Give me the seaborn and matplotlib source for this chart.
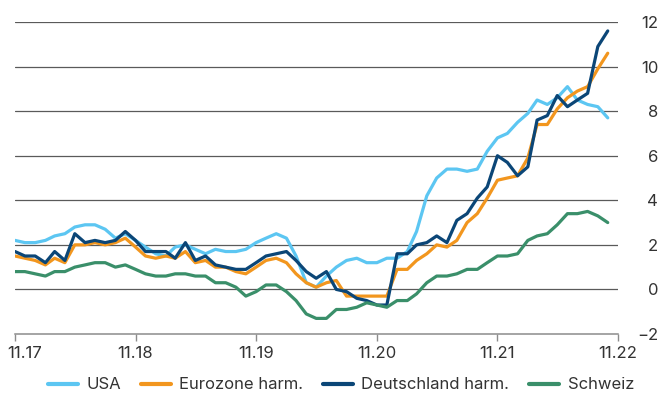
import matplotlib
matplotlib.use("Agg")
import matplotlib.pyplot as plt
import matplotlib.transforms as mtransforms
import seaborn as sns
import pandas as pd

# Monthly inflation rates, year-on-year in %, Nov 2017 - Oct 2022
months = pd.date_range("2017-11-01", periods=60, freq="MS")

usa = [2.2, 2.1,
       2.1, 2.2, 2.4, 2.5, 2.8, 2.9, 2.9, 2.7, 2.3, 2.5, 2.2, 1.9,
       1.6, 1.5, 1.9, 2.0, 1.8, 1.6, 1.8, 1.7, 1.7, 1.8, 2.1, 2.3,
       2.5, 2.3, 1.5, 0.3, 0.1, 0.6, 1.0, 1.3, 1.4, 1.2, 1.2, 1.4,
       1.4, 1.7, 2.6, 4.2, 5.0, 5.4, 5.4, 5.3, 5.4, 6.2, 6.8, 7.0,
       7.5, 7.9, 8.5, 8.3, 8.6, 9.1, 8.5, 8.3, 8.2, 7.7]

eurozone = [1.5, 1.4,
            1.3, 1.1, 1.4, 1.2, 2.0, 2.0, 2.1, 2.0, 2.1, 2.3, 1.9, 1.5,
            1.4, 1.5, 1.4, 1.7, 1.2, 1.3, 1.0, 1.0, 0.8, 0.7, 1.0, 1.3,
            1.4, 1.2, 0.7, 0.3, 0.1, 0.3, 0.4, -0.3, -0.3, -0.3, -0.3, -0.3,
            0.9, 0.9, 1.3, 1.6, 2.0, 1.9, 2.2, 3.0, 3.4, 4.1, 4.9, 5.0,
            5.1, 5.9, 7.4, 7.4, 8.1, 8.6, 8.9, 9.1, 9.9, 10.6]

deutschland = [1.7, 1.5,
               1.5, 1.2, 1.7, 1.3, 2.5, 2.1, 2.2, 2.1, 2.2, 2.6, 2.2, 1.7,
               1.7, 1.7, 1.4, 2.1, 1.3, 1.5, 1.1, 1.0, 0.9, 0.9, 1.2, 1.5,
               1.6, 1.7, 1.3, 0.8, 0.5, 0.8, 0.0, -0.1, -0.4, -0.5, -0.7, -0.7,
               1.6, 1.6, 2.0, 2.1, 2.4, 2.1, 3.1, 3.4, 4.1, 4.6, 6.0, 5.7,
               5.1, 5.5, 7.6, 7.8, 8.7, 8.2, 8.5, 8.8, 10.9, 11.6]

schweiz = [0.8, 0.8,
           0.7, 0.6, 0.8, 0.8, 1.0, 1.1, 1.2, 1.2, 1.0, 1.1, 0.9, 0.7,
           0.6, 0.6, 0.7, 0.7, 0.6, 0.6, 0.3, 0.3, 0.1, -0.3, -0.1, 0.2,
           0.2, -0.1, -0.5, -1.1, -1.3, -1.3, -0.9, -0.9, -0.8, -0.6, -0.7, -0.8,
           -0.5, -0.5, -0.2, 0.3, 0.6, 0.6, 0.7, 0.9, 0.9, 1.2, 1.5, 1.5,
           1.6, 2.2, 2.4, 2.5, 2.9, 3.4, 3.4, 3.5, 3.3, 3.0]

series_names = ["USA", "Eurozone harm.", "Deutschland harm.", "Schweiz"]
series_colors = ["#5CC6F2", "#F2961E", "#0B4677", "#3A8F6A"]

x_tick_dates = pd.date_range("2017-11-01", periods=6, freq="12MS")
x_tick_labels = ["11.17", "11.18", "11.19", "11.20", "11.21", "11.22"]
y_ticks = [-2, 0, 2, 4, 6, 8, 10, 12]

df = pd.DataFrame({
    "Monat": list(months) * 4,
    "Wert": usa + eurozone + deutschland + schweiz,
    "Serie": [name for name in series_names for _ in months],
})

sns.set_theme(style="white")
plt.rcParams["font.family"] = ["Inter", "DejaVu Sans"]

fig = plt.figure(figsize=(6.62, 3.96), dpi=100)
ax = fig.add_axes([0.0227, 0.1566, 0.9108, 0.7878])

sns.lineplot(data=df, x="Monat", y="Wert", hue="Serie",
             hue_order=series_names, palette=series_colors,
             linewidth=2.3, ax=ax, legend=True)

ax.set_xlim(x_tick_dates[0], x_tick_dates[-1])
ax.set_ylim(-2, 12)
ax.set_xlabel("")
ax.set_ylabel("")

# horizontal grid
for y in y_ticks[1:]:
    ax.axhline(y, color="#5a5a5a", linewidth=0.9, zorder=0)

for side in ["left", "right", "top"]:
    ax.spines[side].set_visible(False)
ax.spines["bottom"].set_color("#8c8c8c")
ax.spines["bottom"].set_linewidth(1.1)

ax.set_xticks(x_tick_dates)
ax.set_xticklabels(x_tick_labels)
ax.tick_params(axis="x", bottom=True, length=5, width=1.0, color="#8c8c8c",
               labelsize=12, labelcolor="#333333", pad=4)

# keep the first date label inside the figure
first = ax.get_xticklabels()[0]
first.set_transform(first.get_transform() +
                    mtransforms.ScaledTranslation(10 / 100, 0, fig.dpi_scale_trans))

ax.yaxis.tick_right()
ax.set_yticks(y_ticks)
ax.set_yticklabels([f"{v}".replace("-", "\u2212") for v in y_ticks])
ax.tick_params(axis="y", right=False, length=0, labelsize=12,
               labelcolor="#333333", pad=29)
for lab in ax.get_yticklabels():
    lab.set_horizontalalignment("right")

handles, labels = ax.get_legend_handles_labels()
ax.legend(handles, labels, ncol=4, frameon=False, loc="center",
          bbox_to_anchor=(0.515, 0.028), bbox_transform=fig.transFigure,
          fontsize=12, handlelength=1.8, handletextpad=0.5,
          columnspacing=1.2, labelcolor="#333333")
for line in ax.get_legend().get_lines():
    line.set_linewidth(3)

fig.savefig("out.png", dpi=100)
